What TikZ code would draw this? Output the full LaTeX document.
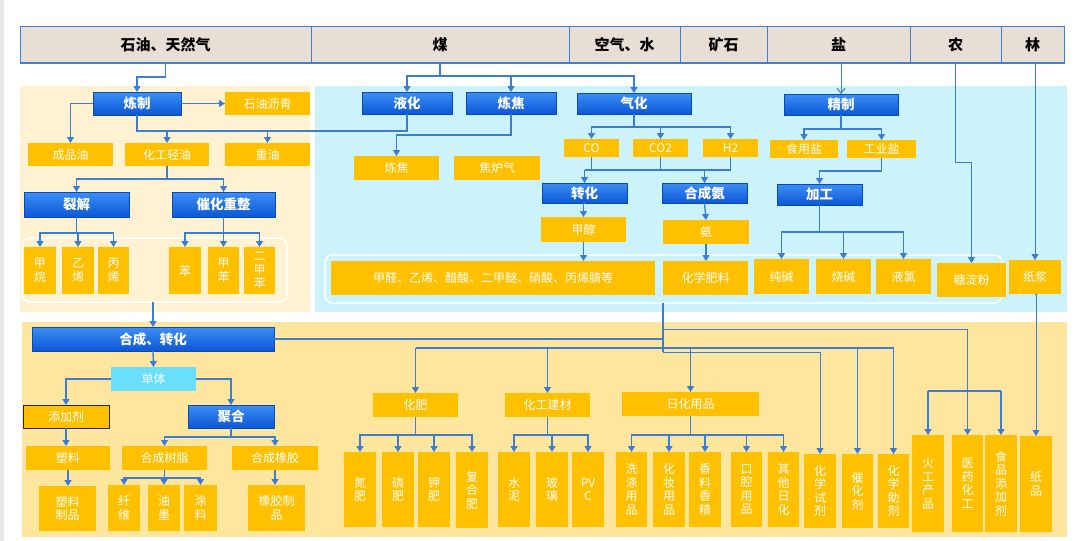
\documentclass[tikz,border=0pt]{standalone}
\usepackage{fontspec}
\setmainfont{Noto Sans CJK SC}
\usetikzlibrary{arrows.meta}
\definecolor{hdr}{HTML}{E7DFD5}
\definecolor{hdrline}{HTML}{3F7FDB}
\definecolor{regA}{HTML}{FFF2D2}
\definecolor{regB}{HTML}{CCF2FC}
\definecolor{regC}{HTML}{FFE69E}
\definecolor{ybox}{HTML}{FFC000}
\definecolor{bluetop}{HTML}{3D8EF5}
\definecolor{bluebot}{HTML}{0B57D6}
\definecolor{cyanbox}{HTML}{6ADFFC}
\definecolor{conn}{HTML}{3A7CD6}
\tikzset{
 base/.style={inner sep=0pt, outer sep=0pt, align=center},
 yb/.style={base, fill=ybox, text=white, font=\fontsize{12}{13.5}\selectfont},
 tj/.style={yb, draw=black!85, line width=1pt},
 cb/.style={base, fill=cyanbox, text=white, font=\fontsize{12}{13.5}\selectfont},
 bb/.style={base, top color=bluetop, bottom color=bluebot, draw=bluebot!85!black, line width=0.4pt, text=white, font=\fontsize{13.5}{15}\selectfont\bfseries},
 hb/.style={base, fill=hdr, draw=hdrline, line width=1pt, text=black, font=\fontsize{15}{17}\selectfont\bfseries},
 grp/.style={base, draw=white, line width=1.5pt, rounded corners=8pt},
 ln/.style={draw=conn, line width=1.3pt},
 arr/.style={ln, -{Triangle[width=7pt,length=6pt]}},
 thinarr/.style={draw=conn, line width=1pt, -{Triangle[width=7pt,length=6pt]}},
}
\newcommand\bx[7]{\node[#1, minimum width={(#5)-(#3)}, minimum height={(#6)-(#4)}] (#2) at ({((#3)+(#5))/2},{((#4)+(#6))/2}) {#7};}
\begin{document}
\begin{tikzpicture}[x=1pt,y=-1pt]
\useasboundingbox (0,0) rectangle (1080,541);
\fill[white] (0,0) rectangle (1080,541);
\fill[gray!18] (0,0) rectangle (4,541);
% regions
\fill[regA] (20,86) rectangle (310,312);
\fill[regB] (315,86) rectangle (1067,312);
\fill[regC] (22,322) rectangle (1067,537);
\bx{grp}{g1}{22}{238}{287}{302}{}
\bx{grp}{g2}{325}{255}{1002}{303}{}
% header
\bx{hb}{h1}{20}{26}{311}{63}{石油、天然气}
\bx{hb}{h2}{311}{26}{569}{63}{煤}
\bx{hb}{h3}{569}{26}{680}{63}{空气、水}
\bx{hb}{h4}{680}{26}{767}{63}{矿石}
\bx{hb}{h5}{767}{26}{910}{63}{盐}
\bx{hb}{h6}{910}{26}{1001}{63}{农}
\bx{hb}{h7}{1001}{26}{1064}{63}{林}
\draw[hdrline, line width=2.5pt] (h1.south west) -- (h7.south east);
% oil
\bx{bb}{lz}{93}{92}{181}{115}{炼制}
\bx{yb}{lqs}{225}{92}{310}{115}{石油沥青}
\bx{yb}{cpy}{28}{143}{113}{166}{成品油}
\bx{yb}{hgqy}{125}{143}{209}{166}{化工轻油}
\bx{yb}{zy}{225}{143}{310}{166}{重油}
\bx{bb}{lj}{24}{192}{129}{217}{裂解}
\bx{bb}{chcz}{172}{192}{275}{217}{催化重整}
\bx{yb}{jw}{24}{247}{56}{294}{甲\\烷}
\bx{yb}{yx}{62}{247}{94}{294}{乙\\烯}
\bx{yb}{bx}{98}{247}{129}{294}{丙\\烯}
\bx{yb}{ben}{169}{247}{201}{294}{苯}
\bx{yb}{jb}{208}{247}{239}{294}{甲\\苯}
\bx{yb}{ejb}{244}{247}{275}{294}{二\\甲\\苯}
% coal
\bx{bb}{yh}{362}{92}{452}{114}{液化}
\bx{bb}{ljb}{466}{92}{556}{114}{炼焦}
\bx{bb}{qh}{577}{93}{691}{114}{气化}
\bx{yb}{ljy}{354}{156}{439}{180}{炼焦}
\bx{yb}{jlq}{454}{156}{540}{180}{焦炉气}
\bx{yb}{co}{564}{139}{619}{157}{CO}
\bx{yb}{co2}{633}{139}{688}{157}{CO2}
\bx{yb}{h2g}{703}{139}{758}{157}{H2}
\bx{bb}{zh}{542}{183}{627}{203}{转化}
\bx{bb}{hca}{662}{183}{747}{203}{合成氨}
\bx{yb}{jc}{541}{217}{626}{242}{甲醇}
\bx{yb}{an}{663}{220}{749}{244}{氨}
\bx{yb}{jq}{331}{261}{655}{295}{甲醛、乙烯、醋酸、二甲醚、硝酸、丙烯腈等}
\bx{yb}{hxfl}{663}{261}{748}{295}{化学肥料}
% salt
\bx{bb}{jz}{784}{94}{898}{115}{精制}
\bx{yb}{sys}{770}{140}{838}{158}{食用盐}
\bx{yb}{gys}{847}{140}{916}{158}{工业盐}
\bx{bb}{jg}{777}{184}{862}{205}{加工}
\bx{yb}{cj}{754}{259}{809}{294}{纯碱}
\bx{yb}{sj}{816}{259}{871}{294}{烧碱}
\bx{yb}{yl}{876}{259}{931}{294}{液氯}
\bx{yb}{tdf}{937}{263}{1006}{297}{糖淀粉}
\bx{yb}{zj}{1009}{260}{1061}{294}{纸浆}
% bottom left
\bx{bb}{hczh}{32}{327}{274}{351}{合成、转化}
\bx{cb}{dt}{111}{367}{196}{391}{单体}
\bx{tj}{tjj}{23}{405}{109}{428}{添加剂}
\bx{bb}{jh}{188}{405}{274}{428}{聚合}
\bx{yb}{sl}{26}{446}{110}{470}{塑料}
\bx{yb}{slzp}{39}{486}{96}{531}{塑料\\制品}
\bx{yb}{hcsz}{122}{446}{207}{470}{合成树脂}
\bx{yb}{hcxj}{232}{446}{318}{470}{合成橡胶}
\bx{yb}{xw}{108}{485}{140}{531}{纤\\维}
\bx{yb}{ym}{148}{485}{180}{531}{油\\墨}
\bx{yb}{tl}{184}{485}{217}{531}{涂\\料}
\bx{yb}{xjzp}{248}{485}{305}{531}{橡胶制\\品}
% bottom middle/right
\bx{yb}{hf}{373}{393}{458}{417}{化肥}
\bx{yb}{hgjc}{505}{393}{590}{417}{化工建材}
\bx{yb}{rhyp}{622}{392}{759}{416}{日化用品}
\bx{yb}{df}{344}{452}{376}{527}{氮\\肥}
\bx{yb}{lf}{382}{452}{414}{527}{磷\\肥}
\bx{yb}{kf}{418}{452}{450}{527}{钾\\肥}
\bx{yb}{fhf}{456}{452}{488}{528}{复\\合\\肥}
\bx{yb}{sn}{498}{452}{530}{527}{水\\泥}
\bx{yb}{bl}{536}{452}{568}{527}{玻\\璃}
\bx{yb}{pvc}{572}{452}{604}{527}{PV\\C}
\bx{yb}{xdyp}{616}{452}{647}{527}{洗\\涤\\用\\品}
\bx{yb}{hzyp}{653}{452}{685}{527}{化\\妆\\用\\品}
\bx{yb}{xlxj}{689}{452}{721}{527}{香\\料\\香\\精}
\bx{yb}{kqyp}{731}{452}{762}{527}{口\\腔\\用\\品}
\bx{yb}{qtrh}{768}{452}{799}{527}{其\\他\\日\\化}
\bx{yb}{hxsj}{804}{454}{836}{528}{化\\学\\试\\剂}
\bx{yb}{chj}{842}{454}{873}{528}{催\\化\\剂}
\bx{yb}{hxzj}{878}{454}{909}{528}{化\\学\\助\\剂}
\bx{yb}{hgcp}{912}{435}{944}{532}{火\\工\\产\\品}
\bx{yb}{yyhg}{952}{435}{983}{532}{医\\药\\化\\工}
\bx{yb}{sptj}{985}{435}{1017}{532}{食\\品\\添\\加\\剂}
\bx{yb}{zp}{1020}{436}{1052}{532}{纸\\品}
% ---- connectors: oil
\draw[arr] (h1.south) -- (h1.south |- 0,77) -| (lz.north);
\draw[arr] (lz.east) -- (lqs.west);
\draw[arr] (lz.west) -| (cpy.north);
\draw[ln] (lz.south) -- (lz.south |- 0,131) -| (yh.south);
\draw[arr] (hgqy.north |- 0,131) -- (hgqy.north);
\draw[arr] (zy.north |- 0,131) -- (zy.north);
\draw[arr] (hgqy.south) -- ++(0,13) -| (lj.north);
\draw[arr] (hgqy.south) -- ++(0,13) -| (chcz.north);
\foreach \t in {jw,yx,bx} \draw[arr] (lj.south) -- ++(0,16) -| (\t.north);
\foreach \t in {ben,jb,ejb} \draw[arr] (chcz.south) -- ++(0,16) -| (\t.north);
\draw[arr] (hczh.north |- g1.south) -- (hczh.north);
% coal
\foreach \t in {yh,ljb,qh} \draw[arr] (h2.south) -- ++(0,13) -| (\t.north);
\draw[arr] (ljb.south) -- ++(0,21) -| (ljy.north);
\foreach \t in {co,co2,h2g} \draw[arr] (qh.south) -- ++(0,13) -| (\t.north);
\coordinate (b1) at (0,170);
\draw[ln] (zh.north |- b1) -- (h2g.south |- b1);
\foreach \t in {co,co2,h2g} \draw[ln] (\t.south) -- (\t.south |- b1);
\draw[arr] (zh.north |- b1) -- (zh.north);
\draw[arr] (hca.north |- b1) -- (hca.north);
\draw[arr] (zh.south) -- (jc.north |- zh.south) -- (jc.north);
\draw[arr] (hca.south) -- (an.north);
\draw[arr] (jc.south) -- (jc.south |- jq.north);
\draw[arr] (an.south) -- (an.south |- hxfl.north);
% salt
\draw[thinarr, -{Straight Barb[width=8pt,length=5pt]}] (jz.north |- h5.south) -- (jz.north);
\foreach \t in {sys,gys} \draw[arr] (jz.south) -- ++(0,14) -| (\t.north);
\draw[arr] (gys.south) -- ++(0,13) -| (jg.north);
\foreach \t in {cj,sj,yl} \draw[arr] (jg.south) -- ++(0,27) -| (\t.north);
\draw[thinarr] (h6.south) -- (h6.south |- 0,162) -| (tdf.north);
\draw[thinarr] (zj.north |- h7.south) -- (zj.north);
\draw[thinarr] (zj.south) -- (zp.north |- zj.south) -- (zp.north);
% bottom
\coordinate (va) at (hxfl.south west |- g2.south);
\draw[ln] (va) -- (va |- 0,352);
\draw[ln] (hczh.east) -- (hczh.east -| va);
\draw[thinarr] (va |- 0,329) -| (yyhg.north);
\draw[ln] (hgcp.north |- 0,391) -- (sptj.north |- 0,391);
\draw[arr] (hgcp.north |- 0,391) -- (hgcp.north);
\draw[arr] (sptj.north |- 0,391) -- (sptj.north);
\draw[ln] (hf.north |- 0,348) -- (hxzj.north |- 0,348);
\foreach \t in {hf,hgjc,rhyp,chj,hxzj} \draw[arr] (\t.north |- 0,348) -- (\t.north);
\draw[thinarr] (va |- 0,352) -| (hxsj.north);
\draw[arr] (hczh.south) -- (dt.north);
\draw[arr] (dt.west) -| (tjj.north);
\draw[arr] (dt.east) -| (jh.north);
\draw[arr] (tjj.south) -- (sl.north -| tjj.south);
\draw[arr] (sl.south) -- (slzp.north -| sl.south);
\foreach \t in {hcsz,hcxj} \draw[arr] (jh.south) -- ++(0,9) -| (\t.north);
\foreach \t in {xw,ym,tl} \draw[arr] (hcsz.south) -- ++(0,8) -| (\t.north);
\draw[arr] (hcxj.south) -- (xjzp.north -| hcxj.south);
\foreach \t in {df,lf,kf,fhf} \draw[arr] (hf.south) -- ++(0,18) -| (\t.north);
\foreach \t in {sn,bl,pvc} \draw[arr] (hgjc.south) -- ++(0,18) -| (\t.north);
\foreach \t in {xdyp,hzyp,xlxj,kqyp,qtrh} \draw[arr] (rhyp.south) -- ++(0,19) -| (\t.north);
\end{tikzpicture}
\end{document}
